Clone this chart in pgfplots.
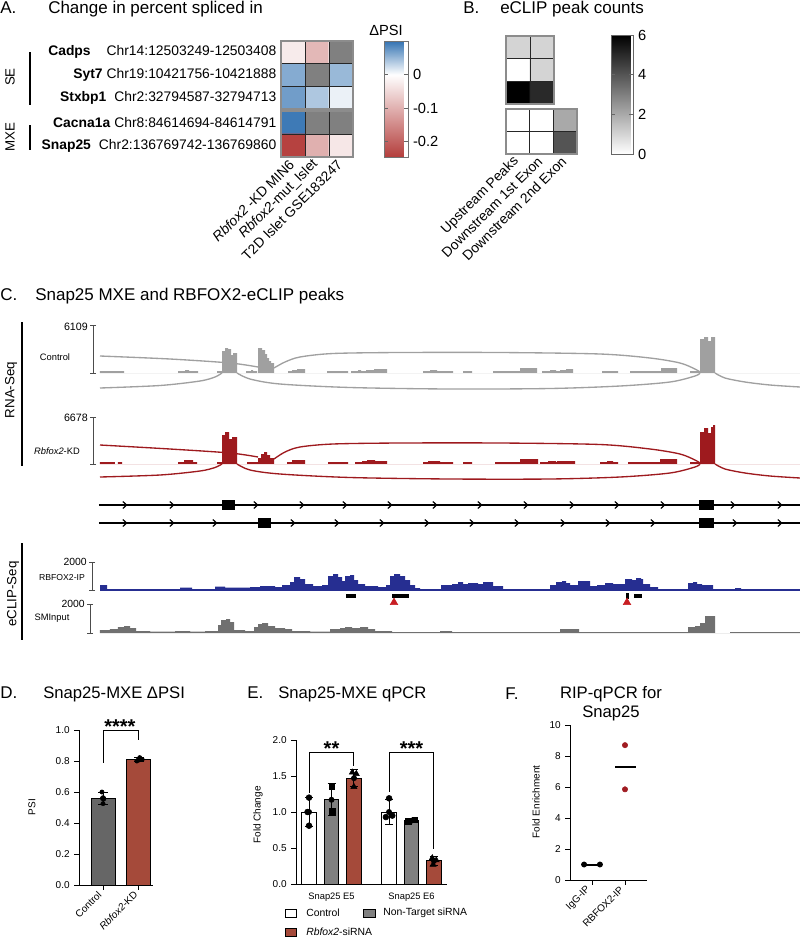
\documentclass[border=0pt]{standalone}
\usepackage{fontspec}
\setmainfont{Liberation Sans}
\setsansfont{Liberation Sans}
\usepackage{pgfplots}
\pgfplotsset{compat=1.18}

\definecolor{ctrlgray}{RGB}{160,160,160}
\definecolor{kdred}{RGB}{158,26,30}
\definecolor{ipblue}{RGB}{38,46,145}
\definecolor{inputgray}{RGB}{112,112,112}
\definecolor{bargray}{RGB}{102,102,102}
\definecolor{barred}{RGB}{165,74,58}
\definecolor{ntgray}{RGB}{128,128,128}
\definecolor{fred}{RGB}{160,28,34}
\definecolor{nagray}{RGB}{128,128,128}
\definecolor{peakred}{RGB}{200,30,35}

\newcommand{\fs}[1]{\fontsize{#1}{#1}\selectfont}

\pgfdeclareplotmark{chev}{%
  \pgfpathmoveto{\pgfqpoint{-1.6pt}{2.6pt}}%
  \pgfpathlineto{\pgfqpoint{1.2pt}{0pt}}%
  \pgfpathlineto{\pgfqpoint{-1.6pt}{-2.6pt}}%
  \pgfusepathqstroke}

\pgfplotsset{
  /pgf/number format/assume math mode=true,
  colormap={dpsi}{rgb255(0pt)=(180,62,60); rgb255(24.5pt)=(255,255,255); rgb255(34.5pt)=(52,115,178)},
  colormap={peaks}{rgb255(0pt)=(255,255,255); rgb255(6pt)=(0,0,0)},
  hm/.style={anchor=north west, scale only axis, y dir=reverse, axis on top,
    axis line style={draw=black!45, line width=0.8pt}, major tick length=0pt,
    tick label style={font=\fs{10.4}}, enlargelimits=false},
  trk/.style={anchor=north west, scale only axis, axis lines=none,
    xmin=85, xmax=800, width=536.25pt, clip=false},
  bars/.style={anchor=north west, scale only axis, axis x line*=bottom, axis y line*=left,
    axis line style={line width=0.75pt}, tick style={line width=0.75pt, black},
    tick align=outside, major tick length=3.5pt, tick label style={font=\fs{7.5}}, clip=false},
  psifmt/.style={yticklabel style={/pgf/number format/fixed, /pgf/number format/fixed zerofill,
    /pgf/number format/precision=1}},
  ebar/.style={only marks, mark=none, black, error bars/.cd, y dir=both, y explicit,
    error bar style={line width=0.75pt, black},
    error mark options={rotate=90, mark size=#1, line width=0.75pt, black}},
}

\begin{document}
\begin{tikzpicture}[x=0.75pt, y=-0.75pt]
\path[use as bounding box] (0,0) rectangle (800,940);
\tikzset{ttl/.style={anchor=base west, inner sep=0pt, font=\fs{12.75}},
         lbl/.style={inner sep=0pt}}

% ---------------- A ----------------
\node[ttl] at (0,13) {A.};
\node[ttl] at (48,13) {Change in percent spliced in};

\begin{axis}[hm, at={({210.75pt},{-30.75pt})}, width=54pt, height=51pt,
  xmin=-0.5, xmax=2.5, ymin=-0.5, ymax=2.5,
  colormap name=dpsi, point meta min=-0.245, point meta max=0.1,
  xtick=\empty, ytick={0,1,2},
  yticklabels={{\textbf{Cadps}\hspace{12pt}Chr14:12503249-12503408},
               {\textbf{Syt7}\hspace{3pt}Chr19:10421756-10421888},
               {\textbf{Stxbp1}\hspace{6pt}Chr2:32794587-32794713}},
  colorbar,
  colorbar style={at={(parent axis.north east)}, anchor=north west, xshift=15pt,
    scale only axis, width=18pt, height=87pt,
    ytick={-0.2,-0.1,0}, yticklabels={-0.2,-0.1,0},
    axis line style={draw=black!55}, ytick style={black!60, line width=0.6pt},
    major tick length=3pt, tick align=inside, yticklabel style={font=\fs{11}}}]
\addplot[matrix plot*, mesh/cols=3, point meta=explicit] table[meta=c] {
x y c
0 0 -0.025
1 0 -0.09
2 0 0
0 1 0.06
1 1 0
2 1 0.05
0 2 0.07
1 2 0.04
2 2 0.01
};
\addplot[fill=nagray, draw=none] coordinates {(1.5,-0.5)(2.5,-0.5)(2.5,0.5)(1.5,0.5)} -- cycle;
\addplot[fill=nagray, draw=none] coordinates {(0.5,0.5)(1.5,0.5)(1.5,1.5)(0.5,1.5)} -- cycle;
\draw[black!85, line width=0.7pt] (0.5,-0.5) -- (0.5,2.5) (1.5,-0.5) -- (1.5,2.5)
  (-0.5,0.5) -- (2.5,0.5) (-0.5,1.5) -- (2.5,1.5);
\end{axis}

\begin{axis}[hm, at={({210.75pt},{-83.25pt})}, width=54pt, height=34.5pt,
  xmin=-0.5, xmax=2.5, ymin=-0.5, ymax=1.5,
  colormap name=dpsi, point meta min=-0.245, point meta max=0.1,
  ytick={0,1},
  yticklabels={{\textbf{Cacna1a}\hspace{3pt}Chr8:84614694-84614791},
               {\textbf{Snap25}\hspace{6pt}Chr2:136769742-136769860}},
  xtick={0,1,2},
  xticklabels={{\textit{Rbfox2} -KD MIN6},{\textit{Rbfox2}-mut\_Islet},{T2D Islet GSE183247}},
  xticklabel style={rotate=45, anchor=east, yshift=-2pt}]
\addplot[matrix plot*, mesh/cols=3, point meta=explicit] table[meta=c] {
x y c
0 0 0.095
1 0 0
2 0 0
0 1 -0.24
1 1 -0.10
2 1 -0.03
};
\addplot[fill=nagray, draw=none] coordinates {(0.5,-0.5)(2.5,-0.5)(2.5,0.5)(0.5,0.5)} -- cycle;
\draw[black!85, line width=0.7pt] (0.5,-0.5) -- (0.5,1.5) (1.5,-0.5) -- (1.5,1.5)
  (-0.5,0.5) -- (2.5,0.5);
\end{axis}

\node[lbl, anchor=base, font=\fs{11}] at (386,35) {ΔPSI};
\node[lbl, rotate=90, font=\fs{10}] at (10,77) {SE};
\node[lbl, rotate=90, font=\fs{10}] at (10,137) {MXE};
\draw[line width=0.9pt] (30,52) -- (30,105) (30,125) -- (30,150);

% ---------------- B ----------------
\node[ttl] at (463,13) {B.};
\node[ttl] at (500,13) {eCLIP peak counts};

\begin{axis}[hm, at={({379.5pt},{-27pt})}, width=36pt, height=51pt,
  xmin=-0.5, xmax=1.5, ymin=-0.5, ymax=2.5,
  colormap name=peaks, point meta min=0, point meta max=6,
  xtick=\empty, ytick=\empty,
  colorbar,
  colorbar style={at={(parent axis.north east)}, anchor=north west, xshift=34.5pt, yshift=0.75pt,
    scale only axis, width=16.5pt, height=89.25pt,
    ytick={0,2,4,6}, axis line style={draw=black!60},
    ytick style={black!60, line width=0.6pt}, major tick length=3pt, tick align=inside,
    yticklabel style={font=\fs{11}}}]
\addplot[matrix plot*, mesh/cols=2, point meta=explicit] table[meta=c] {
x y c
0 0 1
1 0 1
0 1 0
1 1 1
0 2 6
1 2 5
};
\draw[black!85, line width=0.7pt] (0.5,-0.5) -- (0.5,2.5) (-0.5,0.5) -- (1.5,0.5) (-0.5,1.5) -- (1.5,1.5);
\end{axis}

\begin{axis}[hm, at={({379.5pt},{-81.75pt})}, width=53.25pt, height=33.75pt,
  xmin=-0.5, xmax=2.5, ymin=-0.5, ymax=1.5,
  colormap name=peaks, point meta min=0, point meta max=6,
  ytick=\empty, xtick={0,1,2},
  xticklabels={Upstream Peaks, Downstream 1st Exon, Downstream 2nd Exon},
  xticklabel style={rotate=45, anchor=east, yshift=-2pt}]
\addplot[matrix plot*, mesh/cols=3, point meta=explicit] table[meta=c] {
x y c
0 0 0
1 0 0
2 0 2
0 1 0
1 1 0
2 1 4
};
\draw[black!85, line width=0.7pt] (0.5,-0.5) -- (0.5,1.5) (1.5,-0.5) -- (1.5,1.5) (-0.5,0.5) -- (2.5,0.5);
\end{axis}

% ---------------- C ----------------
\node[ttl] at (0,300) {C.};
\node[ttl] at (35,300) {Snap25 MXE and RBFOX2-eCLIP peaks};
\draw[line width=0.9pt] (22,322) -- (22,466) (22,543) -- (22,640);
\node[lbl, rotate=90, font=\fs{10}] at (11,390) {RNA-Seq};
\node[lbl, rotate=90, font=\fs{10}] at (13,594) {eCLIP-Seq};

% Control sashimi
\begin{axis}[trk, at={({63.75pt},{-240.75pt})}, ymin=-20, ymax=52, height=54pt]
\addplot[const plot, fill=ctrlgray, draw=none] coordinates {
(100,2)(124,0)(178,2)(185,3)(189,2)(198,0)(217,2)(222,22)(225,25)(228,24)(231,18)(233,20)(237,0)
(246,2)(251,3)(253,2)(257,0)(258,25)(262,23)(265,19)(267,15)(269,12)(271,10)(274,0)
(288,2)(292,3)(297,4)(305,0)(327,2)(348,0)(351,2)(358,3)(361,2)(366,3)(374,4)(387,0)
(423,2)(430,3)(437,2)(453,0)(463,2)(472,0)(493,2)(520,5)(537,0)(542,2)(550,3)(556,2)(560,3)(566,4)(573,0)
(602,2)(618,0)(630,2)(661,5)(677,0)(690,2)(700,34)(704,36)(708,32)(711,36)(715,0)(800,0)} \closedcycle;
\addplot[ctrlgray, line width=1pt, smooth] coordinates {(100,17)(170,14)(230,10)(258,6)};
\addplot[ctrlgray, line width=1pt, smooth] coordinates {(274,5)(285,11)(300,16)(333,19.5)(400,20.5)(500,20.5)(600,19)(650,15)(680,10)(695,4)(700,1)};
\addplot[ctrlgray, line width=1pt, smooth] coordinates {(237,0)(250,-6)(280,-11)(350,-14.5)(450,-16)(550,-15.5)(620,-13)(670,-9)(695,-3)(700,0)};
\addplot[ctrlgray, line width=1pt, smooth] coordinates {(100,-15)(160,-12.5)(200,-8)(215,-4)(222,0)};
\addplot[ctrlgray, line width=1pt, smooth] coordinates {(715,0)(725,-5)(745,-9)(770,-12)(800,-14)};
\addplot[black!70, line width=0.6pt, mark=-, mark size=2.3pt] coordinates {(93,0)(93,48)};
\node[lbl, anchor=east, font=\fs{8}] at (88,46) {6109};
\node[lbl, font=\fs{7}] at (55,16) {Control};
\end{axis}

% Rbfox2-KD sashimi
\begin{axis}[trk, at={({63.75pt},{-309pt})}, ymin=-20, ymax=52, height=54pt]
\addplot[const plot, fill=kdred, draw=none] coordinates {
(100,2)(115,0)(118,2)(122,0)(178,2)(184,4)(193,2)(197,0)(217,2)(222,29)(225,32)(229,25)(232,27)(237,0)
(247,2)(258,6)(261,10)(264,12)(267,9)(270,6)(274,0)(287,2)(292,4)(305,0)(328,2)(348,0)
(355,2)(362,3)(367,4)(375,3)(387,0)(423,2)(428,3)(440,2)(453,0)(463,2)(472,0)
(495,2)(520,5)(538,0)(540,2)(548,3)(556,2)(557,3)(575,0)(600,2)(607,3)(613,2)(618,0)
(628,2)(660,5)(677,0)(690,2)(700,32)(704,36)(708,31)(711,37)(713,39)(715,0)(800,0)} \closedcycle;
\addplot[kdred, line width=1pt, smooth] coordinates {(100,19)(170,15)(230,11)(258,7)};
\addplot[kdred, line width=1pt, smooth] coordinates {(274,5)(285,12)(300,17)(333,20)(400,21)(500,21)(600,19.5)(650,15)(680,10)(695,4)(700,1)};
\addplot[kdred, line width=1pt, smooth] coordinates {(237,0)(250,-6)(280,-10)(350,-13.5)(450,-15)(550,-15)(620,-13)(670,-9)(695,-3)(700,0)};
\addplot[kdred, line width=1pt, smooth] coordinates {(100,-13)(160,-11)(200,-7)(215,-3.5)(222,0)};
\addplot[kdred, line width=1pt, smooth] coordinates {(715,0)(725,-5)(745,-9)(770,-12)(800,-14)};
\addplot[black!70, line width=0.6pt, mark=-, mark size=2.3pt] coordinates {(93,0)(93,47)};
\node[lbl, anchor=east, font=\fs{8}] at (88,46) {6678};
\node[lbl, font=\fs{7}] at (57,13) {\textit{Rbfox2}-KD};
\end{axis}

% gene models
\begin{axis}[trk, at={({63.75pt},{-371.25pt})}, ymin=495, ymax=532, y dir=reverse, height=27.75pt]
\addplot[black, line width=1pt] coordinates {(99,505)(800,505)};
\addplot[black, line width=1pt] coordinates {(99,523)(800,523)};
\addplot[only marks, mark=chev, black, mark options={line width=0.9pt}] coordinates {
(125,505)(172,505)(256,505)(302,505)(345,505)(390,505)(435,505)(480,505)(526,505)(572,505)(617,505)(663,505)(733,505)(780,505)};
\addplot[only marks, mark=chev, black, mark options={line width=0.9pt}] coordinates {
(125,523)(172,523)(215,523)(293,523)(337,523)(382,523)(427,523)(472,523)(517,523)(563,523)(608,523)(653,523)(735,523)(780,523)};
\addplot[fill=black, draw=none] coordinates {(222,500)(235,500)(235,510)(222,510)} -- cycle;
\addplot[fill=black, draw=none] coordinates {(699,500)(714,500)(714,510)(699,510)} -- cycle;
\addplot[fill=black, draw=none] coordinates {(258,518)(271,518)(271,528)(258,528)} -- cycle;
\addplot[fill=black, draw=none] coordinates {(699,518)(714,518)(714,528)(699,528)} -- cycle;
\end{axis}

% RBFOX2-IP
\begin{axis}[trk, at={({63.75pt},{-420pt})}, ymin=-16, ymax=30, height=34.5pt]
\addplot[const plot, fill=ipblue, draw=none] coordinates {
(100,5)(107,1)(180,2.5)(192,1)(215,3.5)(225,2.5)(250,3)(260,4)(275,3)(282,5)(290,8)(294,13)(300,11)(305,6)
(313,4)(322,5)(328,14)(333,16)(338,13)(342,9)(345,14)(350,15)(354,10)(358,6)(365,4)(378,3)(386,5)
(390,14)(394,16)(400,14)(405,10)(410,5)(415,2)(420,0)(441,5)(452,6)(458,8)(463,6)(468,7)(478,6)
(483,8)(488,8)(493,4)(503,0)(518,1)(548,1)(550,5)(556,8)(562,9)(566,7)(570,5)(578,9)(583,9)(590,4)
(597,5)(605,7)(613,6)(620,6)(625,11)(632,10)(636,12)(641,11)(643,6)(650,3)(658,0)(688,7)(693,8)
(697,6)(702,5)(707,5)(713,0)(735,2)(741,0)(753,1)(767,0)(800,0)} \closedcycle;
\addplot[ipblue, line width=0.8pt] coordinates {(100,0)(800,0)};
\addplot[fill=black, draw=none] coordinates {(346,-4)(356,-4)(356,-8)(346,-8)} -- cycle;
\addplot[fill=black, draw=none] coordinates {(392,-4)(409,-4)(409,-8)(392,-8)} -- cycle;
\addplot[fill=black, draw=none] coordinates {(626,-3)(629,-3)(629,-9)(626,-9)} -- cycle;
\addplot[fill=black, draw=none] coordinates {(634,-4)(642,-4)(642,-8)(634,-8)} -- cycle;
\addplot[only marks, mark=triangle*, mark size=3.3pt, peakred] coordinates {(394,-12.5)(627,-12.5)};
\addplot[black!70, line width=0.6pt, mark=-, mark size=2.3pt] coordinates {(92,0)(92,28)};
\node[lbl, anchor=east, font=\fs{7.8}] at (87,28) {2000};
\node[lbl, font=\fs{6.5}] at (62,12) {RBFOX2-IP};
\end{axis}

% SMInput
\begin{axis}[trk, at={({63.75pt},{-452.25pt})}, ymin=-5, ymax=30, height=26.25pt]
\addplot[const plot, fill=inputgray, draw=none] coordinates {
(100,3)(110,4)(118,6)(124,7)(130,5)(136,2)(150,1.5)(175,2)(190,1.5)(205,2)(218,8)(221,13)(226,14)(230,11)
(234,3)(245,2)(254,6)(258,9)(262,10)(268,7)(275,5)(285,4)(292,2)(310,1.5)(330,4)(340,5)(345,6)(352,5)
(360,6)(368,4)(375,2)(392,1)(440,2)(452,1)(560,4)(579,1)(688,6)(695,7)(700,10)(705,17)(715,0)(730,1)(800,0)} \closedcycle;
\addplot[black!70, line width=0.6pt, mark=-, mark size=2.3pt] coordinates {(90,0)(90,29)};
\node[lbl, anchor=east, font=\fs{7.8}] at (85,29) {2000};
\node[lbl, font=\fs{7}] at (52,15) {SMInput};
\end{axis}

% ---------------- D ----------------
\node[ttl] at (0,698) {D.};
\node[ttl, font=\fs{12.5}] at (43,698) {Snap25-MXE ΔPSI};
\begin{axis}[bars, psifmt, at={({59.25pt},{-547.5pt})}, width=55.5pt, height=116.25pt,
  xmin=-0.667, xmax=1.389, ymin=0, ymax=1,
  ytick={0,0.2,0.4,0.6,0.8,1.0}, xtick={0,1},
  xticklabels={Control, \textit{Rbfox2}-KD},
  xticklabel style={rotate=45, anchor=east, font=\fs{7.5}}]
\addplot[ybar, bar width=18pt, bar shift=0pt, fill=bargray, draw=black, line width=0.75pt]
  coordinates {(0,0.56)};
\addplot[ybar, bar width=18pt, bar shift=0pt, fill=barred, draw=black, line width=0.75pt]
  coordinates {(1,0.81)};
\addplot[ebar=3.5pt] coordinates {(0,0.56) +- (0,0.04) (1,0.81) +- (0,0.015)};
\addplot[only marks, mark=*, mark size=1.6pt, black] coordinates {(-0.03,0.60)(0.02,0.555)(0,0.525)(0.94,0.80)(1.02,0.822)(1.09,0.81)};
\addplot[black, line width=0.75pt] coordinates {(0,0.79)(0,1.0)(1,1.0)(1,0.935)};
\node[lbl, anchor=base, font=\bfseries\fs{15}] at (0.47,0.975) {****};
\end{axis}
\node[lbl, rotate=90, font=\fs{7.5}] at (32,807) {PSI};

% ---------------- E ----------------
\node[ttl] at (247,698) {E.};
\node[ttl, font=\fs{12.5}] at (278,698) {Snap25-MXE qPCR};
\begin{axis}[bars, psifmt, at={({222pt},{-555pt})}, width=113.25pt, height=108pt,
  xmin=0.556, xmax=2.444, ymin=0, ymax=2,
  ytick={0,0.5,1.0,1.5,2.0}, xtick={1,2},
  xticklabels={Snap25 E5, Snap25 E6}, xtick style={draw=none},
  xticklabel style={font=\fs{7}}]
\addplot[ybar, bar width=10.9pt, bar shift=-16.9pt, fill=white, draw=black, line width=0.75pt]
  coordinates {(1,1.0) (2,1.0)};
\addplot[ybar, bar width=10.9pt, bar shift=0pt, fill=ntgray, draw=black, line width=0.75pt]
  coordinates {(1,1.17) (2,0.88)};
\addplot[ybar, bar width=10.9pt, bar shift=16.9pt, fill=barred, draw=black, line width=0.75pt]
  coordinates {(1,1.47) (2,0.32)};
\addplot[ebar=3pt] coordinates {(0.719,1.0) +- (0,0.2) (1.0,1.17) +- (0,0.22) (1.281,1.47) +- (0,0.12)
  (1.719,1.0) +- (0,0.17) (2.0,0.88) +- (0,0.015) (2.281,0.32) +- (0,0.06)};
\addplot[only marks, mark=*, mark size=2.2pt, black] coordinates {(0.719,1.2)(0.70,1.0)(0.719,0.81)(1.72,1.19)(1.68,0.93)(1.76,0.95)};
\addplot[only marks, mark=square*, mark size=2pt, black] coordinates {(1.0,1.35)(1.01,1.01)(1.96,0.87)(2.04,0.89)};
\addplot[only marks, mark=triangle*, mark size=2.6pt, black] coordinates {(1.26,1.55)(1.31,1.53)(1.28,1.35)(2.26,0.36)(2.27,0.27)(2.31,0.33)};
\addplot[black, line width=0.75pt] coordinates {(0.719,1.27)(0.719,1.82)(1.281,1.82)(1.281,1.64)};
\addplot[black, line width=0.75pt] coordinates {(1.719,1.28)(1.719,1.82)(2.281,1.82)(2.281,0.49)};
\node[lbl, anchor=base, font=\bfseries\fs{15}] at (1.0,1.78) {**};
\node[lbl, anchor=base, font=\bfseries\fs{15}] at (2.0,1.78) {***};
\end{axis}
\node[lbl, rotate=90, font=\fs{7.5}] at (258,815) {Fold Change};
\draw[line width=0.6pt, fill=white] (285,909) rectangle (296,917);
\node[lbl, anchor=west, font=\fs{7.8}] at (306,913) {Control};
\draw[line width=0.6pt, fill=ntgray] (363,909) rectangle (375,917);
\node[lbl, anchor=west, font=\fs{7.8}] at (383,913) {Non-Target siRNA};
\draw[line width=0.6pt, fill=barred] (285,928) rectangle (296,936);
\node[lbl, anchor=west, font=\fs{7.8}] at (306,932) {\textit{Rbfox2}-siRNA};

% ---------------- F ----------------
\node[ttl] at (505,699) {F.};
\node[lbl, anchor=base, font=\fs{12.5}] at (611,698) {RIP-qPCR for};
\node[lbl, anchor=base, font=\fs{12.5}] at (611,717) {Snap25};
\begin{axis}[bars, at={({427.5pt},{-543.75pt})}, width=57.75pt, height=116.25pt,
  xmin=-0.667, xmax=1.667, ymin=0, ymax=10,
  ytick={0,2,4,6,8,10}, xtick={0,1},
  xticklabels={IgG-IP, RBFOX2-IP},
  xticklabel style={rotate=45, anchor=east, font=\fs{7.5}}]
\addplot[black, line width=1.5pt] coordinates {(-0.24,1.0)(0.24,1.0)};
\addplot[only marks, mark=*, mark size=2pt, black] coordinates {(-0.24,1.0)(0.24,1.0)};
\addplot[only marks, mark=*, mark size=2pt, fred] coordinates {(1,8.7)(1,5.85)};
\addplot[black, line width=1.5pt] coordinates {(0.7,7.28)(1.33,7.28)};
\end{axis}
\node[lbl, rotate=90, font=\fs{7.5}] at (536,802) {Fold Enrichment};

\end{tikzpicture}
\end{document}
